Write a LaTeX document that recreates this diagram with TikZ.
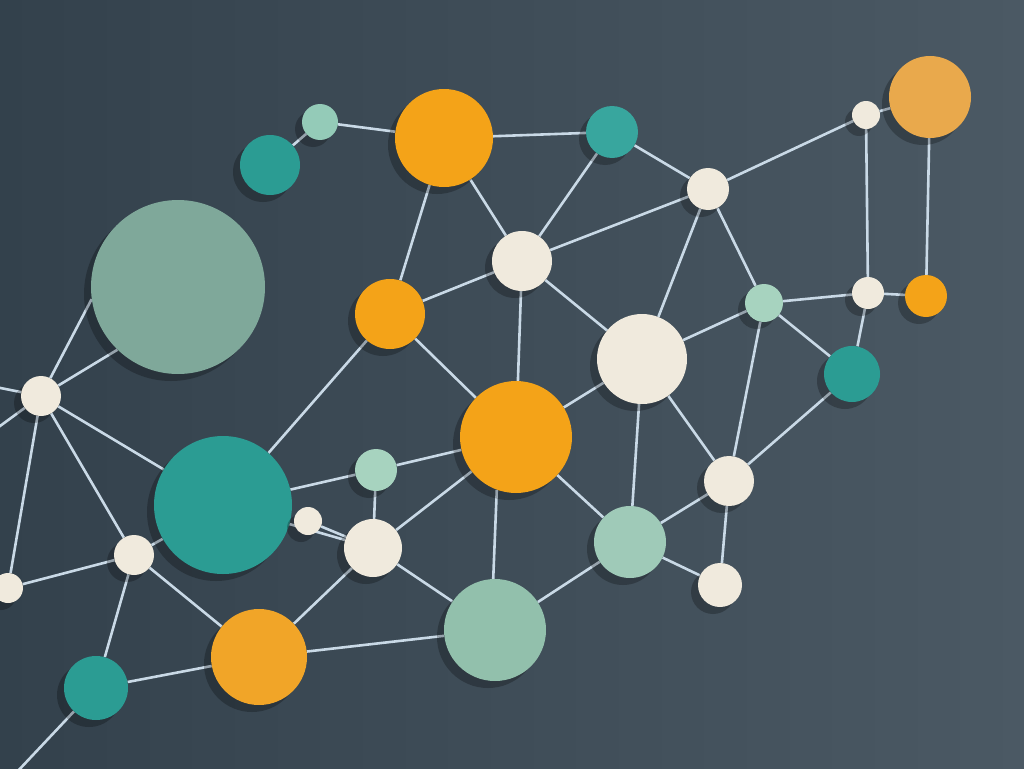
\documentclass[tikz,border=0pt]{standalone}
\usetikzlibrary{shadows,backgrounds}

\definecolor{bgleft}{HTML}{33414C}
\definecolor{bgright}{HTML}{4B5964}
\definecolor{linkcol}{HTML}{C9D9E6}
\definecolor{ballorange}{HTML}{F4A318}
\definecolor{dullorange}{HTML}{E9A94C}
\definecolor{ballteal}{HTML}{2B9C93}
\definecolor{lightteal}{HTML}{38A69E}
\definecolor{darkmint}{HTML}{7FA89A}
\definecolor{ballmint}{HTML}{92C0AC}
\definecolor{palemint}{HTML}{A7D3BF}
\definecolor{cream}{HTML}{F0EADD}

\begin{document}
\begin{tikzpicture}[x=1pt,y=-1pt,
	ball/.style={circle,inner sep=0pt,draw=none,
		drop shadow={shadow xshift=-7pt,shadow yshift=-7pt,opacity=0.25,fill=black}},
	orangeball/.style={ball,fill=ballorange},
	tealball/.style={ball,fill=ballteal},
	mintball/.style={ball,fill=ballmint},
	creamball/.style={ball,fill=cream},
	link/.style={draw=linkcol,line width=2.6pt}]
	\useasboundingbox (0,0) rectangle (1024,768);
	% top row
	\node[tealball,minimum size=60] (t_1) at (270,165) {};
	\node[mintball,fill=palemint!85!ballteal,minimum size=36] (m_1) at (320,122) {};
	\node[orangeball,minimum size=98] (o_1) at (444,138) {};
	\node[tealball,fill=lightteal,minimum size=52] (t_2) at (612,132) {};
	\node[creamball,minimum size=28] (w_1) at (866,115) {};
	\node[orangeball,fill=dullorange,minimum size=82] (o_2) at (930,97) {};
	\node[creamball,minimum size=42] (w_2) at (708,189) {};
	\node[creamball,minimum size=60] (w_3) at (522,261) {};
	% middle
	\node[mintball,fill=darkmint,minimum size=174] (m_2) at (178,287) {};
	\node[orangeball,minimum size=70] (o_3) at (390,314) {};
	\node[mintball,fill=palemint,minimum size=38] (m_3) at (764,303) {};
	\node[creamball,minimum size=32] (w_4) at (868,293) {};
	\node[orangeball,minimum size=42] (o_4) at (926,296) {};
	\node[tealball,minimum size=56] (t_3) at (852,374) {};
	\node[creamball,minimum size=90] (w_5) at (642,359) {};
	\node[orangeball,minimum size=112] (o_5) at (516,437) {};
	\node[creamball,minimum size=40] (w_6) at (41,396) {};
	\node[tealball,minimum size=138] (t_4) at (223,505) {};
	\node[mintball,fill=palemint,minimum size=42] (m_4) at (376,470) {};
	\node[creamball,minimum size=28] (w_7) at (308,521) {};
	\node[creamball,minimum size=58] (w_8) at (373,548) {};
	\node[creamball,minimum size=50] (w_9) at (729,481) {};
	\node[mintball,fill=palemint!80!darkmint,minimum size=72] (m_5) at (630,542) {};
	% bottom
	\node[creamball,minimum size=40] (w_10) at (134,555) {};
	\node[creamball,minimum size=30] (w_11) at (8,588) {};
	\node[creamball,minimum size=44] (w_12) at (720,585) {};
	\node[mintball,minimum size=102] (m_6) at (495,630) {};
	\node[orangeball,fill=ballorange!70!dullorange,minimum size=96] (o_6) at (259,657) {};
	\node[tealball,minimum size=64] (t_5) at (96,688) {};
	% free ends off the page
	\coordinate (off_1) at (-30,382);
	\coordinate (off_2) at (-30,448);
	\coordinate (off_3) at (0,790);
	\begin{scope}[on background layer]
		\shade[left color=bgleft,right color=bgright] (0,0) rectangle (1024,768);
		\path[link]
		(t_1) edge (m_1)
		(m_1) edge (o_1)
		(o_1) edge (t_2)
		(o_1) edge (w_3)
		(o_1) edge (o_3)
		(t_2) edge (w_3)
		(t_2) edge (w_2)
		(w_2) edge (w_1)
		(w_1) edge (o_2)
		(w_1) edge (w_4)
		(o_2) edge (o_4)
		(w_2) edge (w_3)
		(w_2) edge (w_5)
		(w_2) edge (m_3)
		(w_3) edge (o_3)
		(w_3) edge (w_5)
		(w_3) edge (o_5)
		(o_3) edge (o_5)
		(o_3) edge (t_4)
		(m_3) edge (w_4)
		(w_4) edge (o_4)
		(m_3) edge (w_5)
		(m_3) edge (t_3)
		(m_3) edge (w_9)
		(w_4) edge (t_3)
		(t_3) edge (w_9)
		(w_5) edge (o_5)
		(w_5) edge (m_5)
		(w_5) edge (w_9)
		(o_5) edge (m_4)
		(o_5) edge (w_8)
		(o_5.250) edge (m_6.92)
		(o_5) edge (m_5)
		(w_9) edge (m_5)
		(w_9) edge (w_12)
		(m_5) edge (w_12)
		(m_5) edge (m_6)
		(w_8) edge (m_6)
		(w_8) edge (o_6)
		(w_8) edge (w_7)
		(w_8) edge (m_4)
		(w_8) edge (t_4)
		(t_4) edge (m_4)
		(t_4) edge (w_6)
		(w_6) edge (m_2.188)
		(w_6) edge (m_2.226)
		(w_6) edge (off_1)
		(w_6) edge (off_2)
		(w_6) edge (w_11)
		(w_6) edge (w_10)
		(w_10) edge (t_4)
		(w_10) edge (w_11)
		(w_10) edge (t_5)
		(w_10) edge (o_6)
		(o_6) edge (m_6)
		(o_6) edge (t_5)
		(t_5) edge (off_3);
	\end{scope}
\end{tikzpicture}
\end{document}
